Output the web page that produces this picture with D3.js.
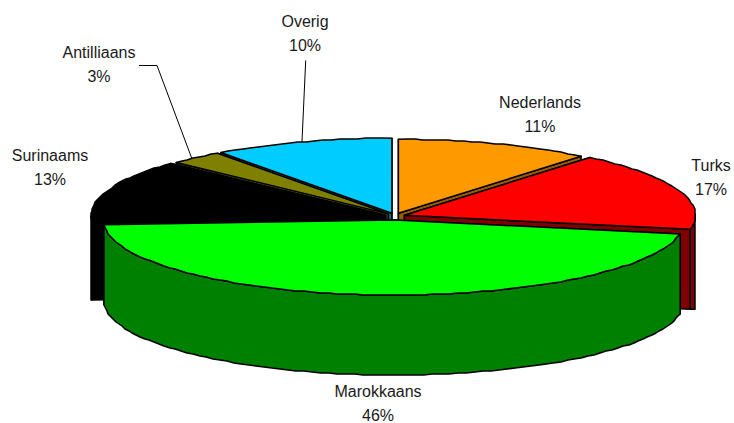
<!DOCTYPE html>
<html><head><meta charset="utf-8">
<script src="https://cdnjs.cloudflare.com/ajax/libs/d3/7.8.5/d3.min.js"></script>
<style>html,body{margin:0;background:#fff}svg{display:block}text{font-family:"Liberation Sans",Arial,sans-serif;font-size:16px;fill:#1a1a1a;text-anchor:middle}</style>
</head><body><svg id="c" width="734" height="423"></svg>
<script>
const categories=["Nederlands","Turks","Marokkaans","Surinaams","Antilliaans","Overig"];
const shares=[11,17,46,13,3,10];
const topColors=["#FF9900","#FF0000","#00FF00","#000000","#808000","#00CCFF"];
const wallColors=["#995C00","#800000","#008000","#000000","#4D4D00","#007A99"];
const paintOrder=[0,5,4,1,3,2];
const radiusFactor=[0.985,1,1,1.012,1,1];
const labelX=[540,711,378,50,99,305];
const labelY=[108,171,397,161,58,27];

const cx=395,cy=216.5,rx=291,ry=75,depth=80,exX=10,exY=3.5,grid=1;
const svg=d3.select("#c");
const x=d3.scaleLinear().domain([-1,1]).range([cx-rx,cx+rx]);
const y=d3.scaleLinear().domain([-1,1]).range([cy-ry,cy+ry]);
const arcs=d3.pie().sort(null).value(d=>d)(shares);
const line=d3.line();
const snap=v=>Math.round(v/grid)*grid;
const rim=(a,ox,oy,f=1)=>[x(Math.sin(a)*f)+ox,y(-Math.cos(a)*f)+oy];
const offs=p=>{const m=(p.startAngle+p.endAngle)/2;return [exX*Math.sin(m),-exY*Math.cos(m)];};

function slice(i){
  const p=arcs[i],[ox,oy]=offs(p),f=radiusFactor[i];
  const apex=[cx+ox,cy+oy];
  const n=Math.ceil((p.endAngle-p.startAngle)/0.03);
  const angles=d3.range(n+1).map(k=>p.startAngle+(p.endAngle-p.startAngle)*k/n);
  const top=angles.map((a,k)=>{const r=rim(a,ox,oy,f);return (k===0||k===n)?r:[snap(r[0]),snap(r[1])];});
  const g=svg.append("g").attr("stroke","#000").attr("stroke-width",1.5).attr("stroke-linejoin","round");
  [p.startAngle,p.endAngle].forEach(a=>{
    const r=rim(a,ox,oy,f);
    g.append("path").attr("d",line([apex,r,[r[0],r[1]+depth],[apex[0],apex[1]+depth]])+"Z").attr("fill",wallColors[i]);
  });
  const front=top.filter((r,k)=>Math.cos(angles[k])<=0.02);
  if(front.length>1){
    const spansBottom=p.startAngle<Math.PI&&p.endAngle>Math.PI;
    const flat=d3.max(front,r=>r[1])+depth;
    const low=front.map(r=>[r[0],spansBottom?r[1]+depth:flat]).reverse();
    g.append("path").attr("d",line(front.concat(low))+"Z").attr("fill",wallColors[i]);
  }
  g.append("path").attr("d",line([apex].concat(top))+"Z").attr("fill",topColors[i]);
}
paintOrder.forEach(slice);

categories.forEach((c,i)=>{
  svg.append("text").attr("x",labelX[i]).attr("y",labelY[i]).text(c);
  svg.append("text").attr("x",labelX[i]).attr("y",labelY[i]+23.5).text(shares[i]+"%");
});
const leader=(i,frac,pts)=>{
  const p=arcs[i],[ox,oy]=offs(p);
  const end=rim(p.startAngle+frac*(p.endAngle-p.startAngle),ox,oy);
  svg.append("path").attr("fill","none").attr("stroke","#000").attr("stroke-width",1).attr("d",line(pts.concat([end])));
};
leader(4,0.4,[[139,65.5],[157,65.5]]);
leader(5,0.5,[[305.7,60.5]]);
</script></body></html>
